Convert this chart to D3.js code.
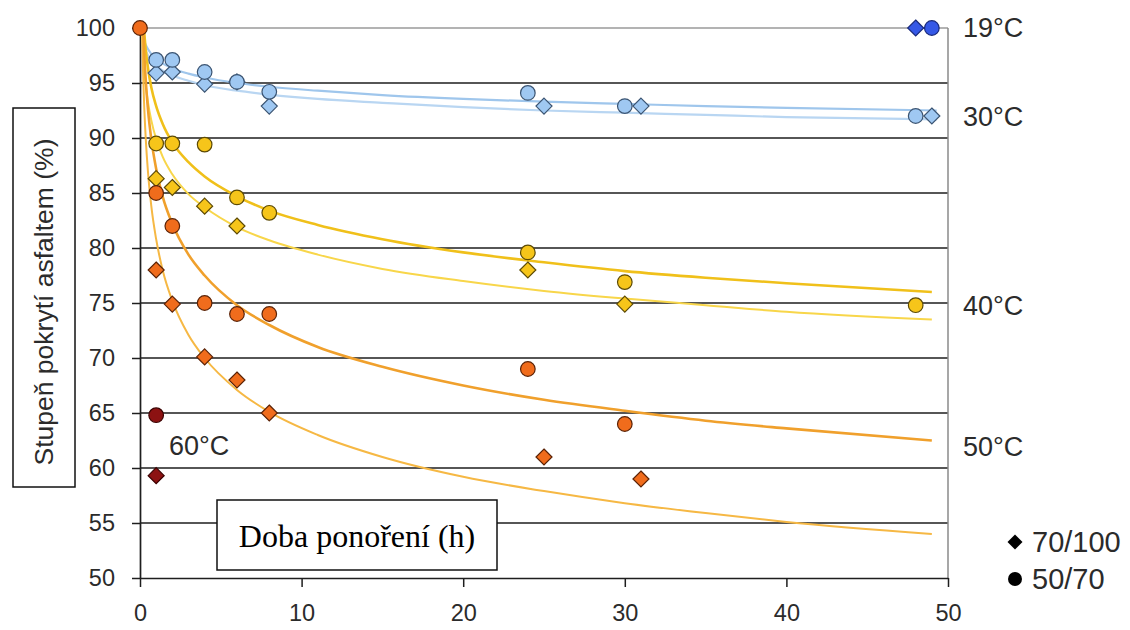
<!DOCTYPE html>
<html><head><meta charset="utf-8">
<script src="https://cdn.jsdelivr.net/npm/d3@7"></script>
<style>body{margin:0;background:#fff}svg{display:block}</style>
</head><body><svg id="c" width="1130" height="630"></svg>
<script>
// ---------- DATA ----------
const xTicks = [0, 10, 20, 30, 40, 50];
const yTicks = [50, 55, 60, 65, 70, 75, 80, 85, 90, 95, 100];
const tempLabels = ["19°C", "30°C", "40°C", "50°C", "60°C"];
const tempLabelValues = [100, 91.9, 74.7, 61.5, 61.5];
const legendLabels = ["70/100", "50/70"];
const xTitle = "Doba ponoření (h)";
const yTitle = "Stupeň pokrytí asfaltem  (%)";

// measured points [hours, %]
const start0 = [[0, 100]];
const s19_70_100 = [[48, 100]];
const s19_50_70 = [[49, 100]];
const s30_50_70 = [[1, 97.1], [2, 97.1], [4, 96], [6, 95.1], [8, 94.2], [24, 94.1], [30, 92.9], [48, 92]];
const s30_70_100 = [[1, 95.9], [2, 96], [4, 94.9], [6, 95.1], [8, 92.9], [25, 92.9], [31, 92.9], [49, 92]];
const s40_50_70 = [[1, 89.5], [2, 89.5], [4, 89.4], [6, 84.6], [8, 83.2], [24, 79.6], [30, 76.9], [48, 74.8]];
const s40_70_100 = [[1, 86.3], [2, 85.5], [4, 83.8], [6, 82], [24, 78], [30, 74.9]];
const s50_50_70 = [[1, 85], [2, 82], [4, 75], [6, 74], [8, 74], [24, 69], [30, 64]];
const s50_70_100 = [[1, 78], [2, 74.9], [4, 70.1], [6, 68], [8, 65], [25, 61], [31, 59]];
const s60_50_70 = [[1, 64.8]];
const s60_70_100 = [[1, 59.3]];

// trend curves, points [hours, %]
const fit30_50_70 = [[0,100],[0.15,99.6],[0.25,98.9],[0.5,98.06],[1,97.2],[2,96.35],[3,95.85],[4,95.5],[6,95.0],[8,94.66],[11,94.3],[15,93.9],[20,93.55],[25,93.3],[30,93.1],[35,92.9],[40,92.74],[49.3,92.5]];
const fit30_70_100 = [[0,100],[0.15,99.1],[0.25,98.4],[0.5,97.5],[1,96.6],[2,95.7],[3,95.2],[4,94.8],[6,94.3],[8,93.95],[11,93.55],[15,93.2],[20,92.8],[25,92.5],[30,92.3],[35,92.1],[40,91.9],[49.3,91.7]];
const fit40_50_70 = [[0.24,100],[0.35,98.1],[0.5,96.3],[0.7,94.6],[1,92.9],[1.4,91.3],[2,89.6],[3,87.8],[4,86.5],[6,84.7],[8,83.4],[11,82.1],[15,80.8],[20,79.6],[25,78.7],[30,77.9],[35,77.3],[40,76.8],[49,76.0]];
const fit40_70_100 = [[0.128,100],[0.18,98.3],[0.25,96.6],[0.35,94.9],[0.5,93.2],[0.7,91.6],[1,89.9],[1.4,88.3],[2,86.7],[3,84.9],[4,83.7],[6,81.9],[8,80.7],[11,79.4],[15,78.1],[20,77.0],[25,76.1],[30,75.4],[35,74.8],[40,74.2],[49,73.5]];
const fit50_50_70 = [[0.2015,100],[0.25,98.2],[0.35,95.4],[0.5,92.5],[0.7,89.9],[1,87.2],[1.4,84.7],[2,82.2],[3,79.4],[4,77.5],[6,74.8],[8,73.0],[11,71.0],[15,69.2],[20,67.5],[25,66.2],[30,65.2],[35,64.3],[40,63.6],[49,62.5]];
const fit50_70_100 = [[0.128,100],[0.18,96.5],[0.25,93.3],[0.35,90.1],[0.5,86.8],[0.7,83.8],[1,80.8],[1.4,78.0],[2,75.2],[3,72.1],[4,70.0],[6,67.1],[8,65.1],[11,63.0],[15,61.0],[20,59.2],[25,57.9],[30,56.8],[35,55.9],[40,55.1],[49,54.0]];

// ---------- DRAWING ----------
const svg = d3.select("#c");
const x = d3.scaleLinear().domain([0, 50]).range([140, 948]);
const y = d3.scaleLinear().domain([50, 100]).range([578, 28]);
const FONT = "'Liberation Sans', Arial, sans-serif";
const TXT = "#2b2b2b";

// gridlines
svg.append("g").selectAll("line").data(yTicks.filter(v => v > 50)).join("line")
  .attr("x1", x(0)).attr("x2", x(50))
  .attr("y1", d => y(d)).attr("y2", d => y(d))
  .attr("stroke", d => d === 100 ? "#9a9a9a" : "#1e1e1e")
  .attr("stroke-width", d => d === 100 ? 1.5 : 1.7);

// right border
svg.append("line").attr("x1", x(50)).attr("x2", x(50)).attr("y1", y(100)).attr("y2", y(50))
  .attr("stroke", "#8a8a8a").attr("stroke-width", 1.5);

// axes
const ya = svg.append("g").attr("transform", `translate(${x(0)},0)`)
  .call(d3.axisLeft(y).tickValues(yTicks).tickSize(8).tickSizeOuter(0).tickPadding(17));
const xa = svg.append("g").attr("transform", `translate(0,${y(50)})`)
  .call(d3.axisBottom(x).tickValues(xTicks).tickSize(9).tickSizeOuter(0).tickPadding(17));
[ya, xa].forEach(g => {
  g.select(".domain").attr("stroke", "#1e1e1e").attr("stroke-width", 1.7);
  g.selectAll(".tick line").attr("stroke", "#1e1e1e").attr("stroke-width", 1.5);
  g.selectAll(".tick text").attr("font-family", FONT).attr("font-size", 23.5).attr("fill", TXT);
});

// x title box (drawn over gridline)
const xb = svg.append("g");
xb.append("rect").attr("x", 217).attr("y", 500).attr("width", 280).attr("height", 70)
  .attr("fill", "#fff").attr("stroke", "#111").attr("stroke-width", 1.5);
xb.append("text").attr("x", 357).attr("y", 536).attr("text-anchor", "middle")
  .attr("dominant-baseline", "central")
  .attr("font-family", "'Liberation Serif', 'Times New Roman', serif").attr("font-size", 32)
  .attr("fill", "#000").text(xTitle);

// y title box
const yb = svg.append("g");
yb.append("rect").attr("x", 13).attr("y", 108).attr("width", 62).attr("height", 379)
  .attr("fill", "#fff").attr("stroke", "#111").attr("stroke-width", 1.5);
yb.append("text").attr("transform", "translate(44,302) rotate(-90)")
  .attr("text-anchor", "middle").attr("dominant-baseline", "central")
  .attr("font-family", FONT).attr("font-size", 26.5).attr("fill", TXT).text(yTitle);

// curves
const line = d3.line().x(d => x(d[0])).y(d => y(d[1])).curve(d3.curveMonotoneX);
const curves = [
  [fit30_50_70, "#9fc6ec", 2.2],
  [fit30_70_100, "#b9d6f2", 2.2],
  [fit40_70_100, "#f8d64a", 2],
  [fit40_50_70, "#f0c01a", 2.6],
  [fit50_70_100, "#f6b844", 2],
  [fit50_50_70, "#f0a02c", 2.6]
];
svg.append("g").selectAll("path").data(curves).join("path")
  .attr("d", d => line(d[0])).attr("fill", "none")
  .attr("stroke", d => d[1]).attr("stroke-width", d => d[2]);

// markers
const diamondPath = r => `M0,${-r}L${r},0L0,${r}L${-r},0Z`;
function diamonds(data, fill, stroke) {
  svg.append("g").selectAll("path").data(data).join("path")
    .attr("transform", d => `translate(${x(d[0])},${y(d[1])})`)
    .attr("d", diamondPath(8)).attr("fill", fill).attr("stroke", stroke).attr("stroke-width", 1.2);
}
function circles(data, fill, stroke) {
  svg.append("g").selectAll("circle").data(data).join("circle")
    .attr("cx", d => x(d[0])).attr("cy", d => y(d[1])).attr("r", 7.3)
    .attr("fill", fill).attr("stroke", stroke).attr("stroke-width", 1.2);
}
const C = {
  b19: ["#3558e6", "#1a2a7a"], b30: ["#9fc8f2", "#3b5472"],
  y40: ["#f6c51a", "#5c4a05"], o50: ["#f06c1c", "#5a2206"], r60: ["#8c1212", "#3a0000"]
};
diamonds(s30_70_100, ...C.b30); circles(s30_50_70, ...C.b30);
diamonds(s40_70_100, ...C.y40); circles(s40_50_70, ...C.y40);
diamonds(s50_70_100, ...C.o50); circles(s50_50_70, ...C.o50);
diamonds(s60_70_100, ...C.r60); circles(s60_50_70, ...C.r60);
diamonds(s19_70_100, ...C.b19); circles(s19_50_70, ...C.b19);
circles(start0, ...C.o50);

// temperature labels
const tl = [
  [tempLabels[0], 963, y(tempLabelValues[0])],
  [tempLabels[1], 963, y(tempLabelValues[1])],
  [tempLabels[2], 963, y(tempLabelValues[2])],
  [tempLabels[3], 963, 447],
  [tempLabels[4], 169, 446]
];
svg.append("g").selectAll("text").data(tl).join("text")
  .attr("x", d => d[1]).attr("y", d => d[2]).attr("dominant-baseline", "central")
  .attr("font-family", FONT).attr("font-size", 27).attr("fill", TXT).text(d => d[0]);

// legend
const lg = svg.append("g");
lg.append("path").attr("transform", "translate(1015,542)").attr("d", diamondPath(7.5)).attr("fill", "#000");
lg.append("circle").attr("cx", 1015).attr("cy", 579).attr("r", 7).attr("fill", "#000");
lg.selectAll("text").data(legendLabels).join("text")
  .attr("x", 1032).attr("y", (d, i) => i === 0 ? 542 : 579).attr("dominant-baseline", "central")
  .attr("font-family", FONT).attr("font-size", 29).attr("fill", TXT).text(d => d);
</script></body></html>
